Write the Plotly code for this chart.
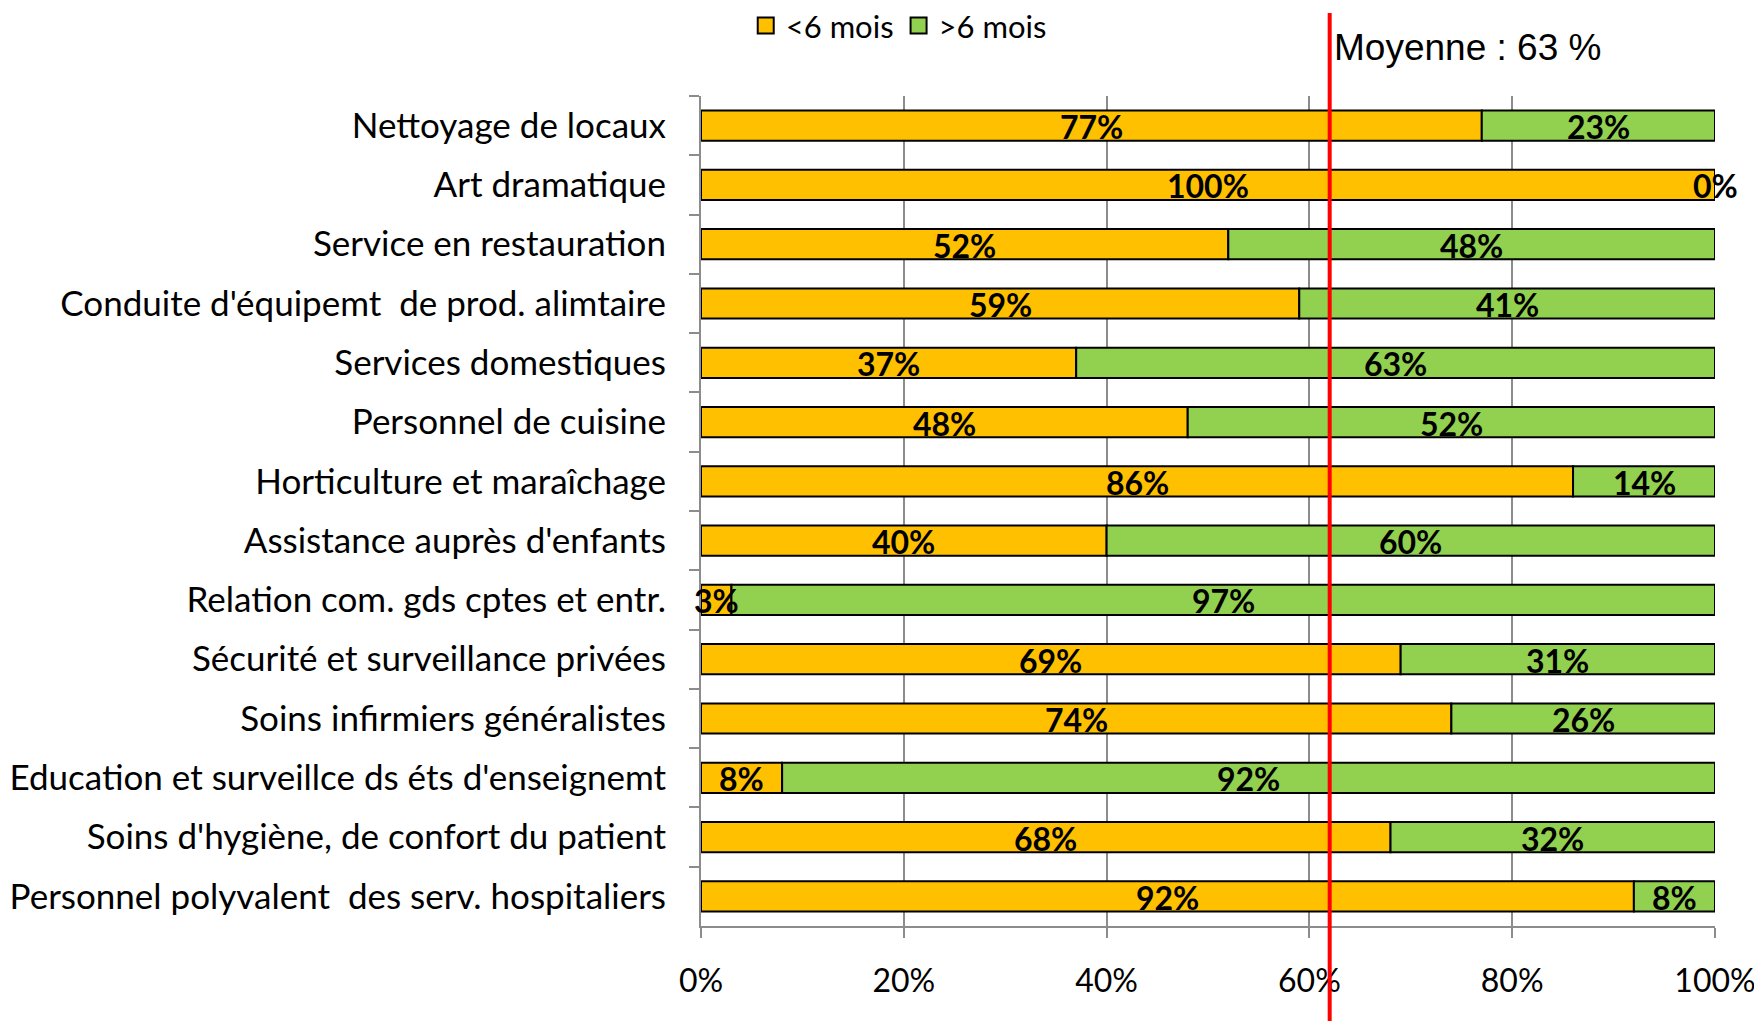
import plotly.graph_objects as go

categories = [
    "Nettoyage de locaux",
    "Art dramatique",
    "Service en restauration",
    "Conduite d'équipemt  de prod. alimtaire",
    "Services domestiques",
    "Personnel de cuisine",
    "Horticulture et maraîchage",
    "Assistance auprès d'enfants",
    "Relation com. gds cptes et entr.",
    "Sécurité et surveillance privées",
    "Soins infirmiers généralistes",
    "Education et surveillce ds éts d'enseignemt",
    "Soins d'hygiène, de confort du patient",
    "Personnel polyvalent  des serv. hospitaliers",
]
moins_6 = [77, 100, 52, 59, 37, 48, 86, 40, 3, 69, 74, 8, 68, 92]
plus_6 = [23, 0, 48, 41, 63, 52, 14, 60, 97, 31, 26, 92, 32, 8]
moyenne_x = 0.62
moyenne_label = "Moyenne : 63 %"

ORANGE = "#FFC000"
GREEN = "#92D050"
FONT = "Lato"

a = [v / 100 for v in moins_6]
b = [v / 100 for v in plus_6]

fig = go.Figure()
fig.add_trace(go.Bar(y=categories, x=a, orientation="h", name="<6 mois", showlegend=False,
                     marker=dict(color=ORANGE, line=dict(color="black", width=2))))
fig.add_trace(go.Bar(y=categories, x=b, base=a, orientation="h", name=">6 mois", showlegend=False,
                     marker=dict(color=GREEN, line=dict(color="black", width=2))))

# legend entries with bigger square markers
for name, col in [("<6 mois", ORANGE), (">6 mois", GREEN)]:
    fig.add_trace(go.Scatter(x=[None], y=[None], mode="markers", name=name,
                             marker=dict(symbol="square", size=16, color=col,
                                         line=dict(color="black", width=2))))

# data labels, centred in each segment
label_font = dict(family=FONT, size=32, color="black", weight="bold")
for cat, p, q, vp, vq in zip(categories, a, b, moins_6, plus_6):
    fig.add_annotation(x=p / 2, y=cat, text=f"{vp}%", showarrow=False,
                       yshift=-1, font=label_font)
    fig.add_annotation(x=p + q / 2, y=cat, text=f"{vq}%", showarrow=False,
                       yshift=-1, font=label_font)

fig.add_shape(type="line", xref="x", yref="paper", x0=moyenne_x, x1=moyenne_x,
              y0=-0.115, y1=1.1, line=dict(color="#FF0000", width=4))
fig.add_annotation(x=moyenne_x, xref="x", xanchor="left", xshift=2, y=1.059, yref="paper",
                   yanchor="middle", text=moyenne_label, showarrow=False,
                   font=dict(family="Liberation Sans", size=37, color="black"))

fig.update_layout(
    width=1762, height=1021,
    paper_bgcolor="white", plot_bgcolor="white",
    barmode="overlay", bargap=0.49,
    margin=dict(l=693, r=55, t=88, b=103, autoexpand=False),
    font=dict(family=FONT, size=32, color="black"),
    legend=dict(orientation="h", x=0.195, xanchor="center", y=1.117, yanchor="top",
                font=dict(family=FONT, size=31), itemwidth=30, traceorder="normal",
                tracegroupgap=0),
    showlegend=True,
)
fig.update_xaxes(range=[0, 1], tickvals=[0, 0.2, 0.4, 0.6, 0.8, 1.0],
                 tickformat=".0%", showgrid=True, gridcolor="#8c8c8c", gridwidth=2,
                 showline=True, linecolor="#8c8c8c", linewidth=2,
                 ticks="outside", ticklen=10, tickcolor="#8c8c8c", tickwidth=2,
                 ticklabelstandoff=16, zeroline=False,
                 tickfont=dict(family=FONT, size=32))
fig.update_yaxes(range=[len(categories) - 0.5, -0.5], showline=True,
                 linecolor="#8c8c8c", linewidth=2,
                 ticks="outside", ticklen=10, tickcolor="#8c8c8c", tickwidth=2,
                 tickson="boundaries", ticklabelstandoff=26,
                 tickfont=dict(family=FONT, size=35))

fig.write_html("out.html")
